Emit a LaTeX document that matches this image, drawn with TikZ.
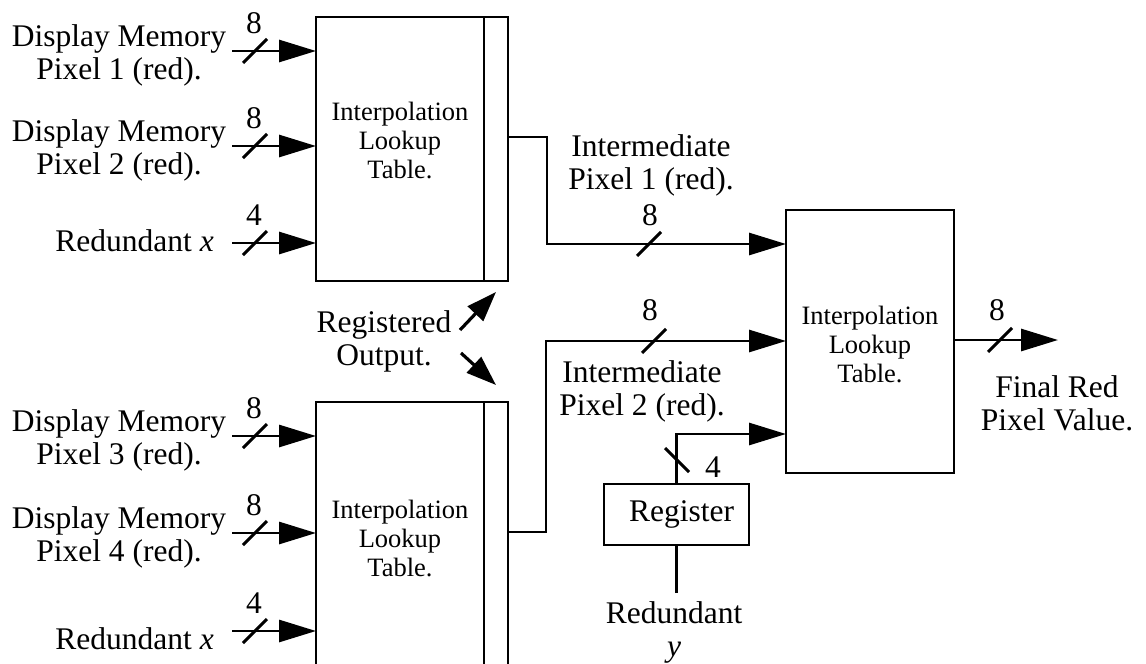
\documentclass[tikz,border=0pt]{standalone}
\usepackage{fontspec}
\setmainfont{Liberation Serif}
\usetikzlibrary{arrows.meta}
\begin{document}
\begin{tikzpicture}[x=1pt,y=-1pt,
  wire/.style={line width=2.9pt},
  sig/.style={wire,-{Triangle[length=37pt,width=22pt]}},
  regarrow/.style={line width=3.2pt,-{Triangle[length=30pt,width=21pt]}},
  box/.style={draw,line width=2.9pt,rectangle,inner sep=0pt,outer sep=0pt},
  lbl/.style={font=\fontsize{31.5pt}{33pt}\selectfont,align=center,inner sep=0pt},
  lutlbl/.style={font=\fontsize{26.5pt}{29pt}\selectfont,align=center,inner sep=0pt},
  num/.style={font=\fontsize{31.5pt}{33pt}\selectfont,inner sep=0pt},
  busmark/.style={line width=2.9pt}
]
\useasboundingbox (0,0) rectangle (1146,664);
\clip (0,0) rectangle (1146,664);

% ---- lookup tables with their output register strips ----
\node[box,minimum width=168pt,minimum height=264pt] (lut1) at (400,149) {};
\node[box,minimum width=24pt,minimum height=264pt] (reg1) at (496,149) {};
\node[lutlbl] (lut1t) at (400,140) {Interpolation\\Lookup\\Table.};

\node[box,minimum width=168pt,minimum height=298pt] (lut2) at (400,551) {};
\node[box,minimum width=24pt,minimum height=298pt] (reg2) at (496,551) {};
\node[lutlbl] (lut2t) at (400,538) {Interpolation\\Lookup\\Table.};

\node[box,minimum width=168pt,minimum height=263pt] (lut3) at (870,341.5) {};
\node[lutlbl] (lut3t) at (870,344) {Interpolation\\Lookup\\Table.};

\node[box,minimum width=145pt,minimum height=61pt,lbl] (rbox) at (676.5,514.5) {\hspace*{10pt}Register};

% ---- input labels ----
\node[lbl] (d1) at (119,55) {Display Memory\\Pixel 1 (red).};
\node[lbl] (d2) at (119,150) {Display Memory\\Pixel 2 (red).};
\node[lbl,anchor=base east] (rx1) at (214,251) {Redundant \textit{x}};
\node[lbl] (d3) at (119,440) {Display Memory\\Pixel 3 (red).};
\node[lbl] (d4) at (119,537) {Display Memory\\Pixel 4 (red).};
\node[lbl,anchor=base east] (rx2) at (214,649) {Redundant \textit{x}};

% ---- input buses ----
\coordinate (s1) at (232,51);
\coordinate (s2) at (232,146);
\coordinate (s3) at (232,243);
\coordinate (s4) at (232,436);
\coordinate (s5) at (232,533);
\coordinate (s6) at (232,631);
\draw[sig] (s1) -- (s1 -| lut1.west);
\draw[sig] (s2) -- (s2 -| lut1.west);
\draw[sig] (s3) -- (s3 -| lut1.west);
\draw[sig] (s4) -- (s4 -| lut2.west);
\draw[sig] (s5) -- (s5 -| lut2.west);
\draw[sig] (s6) -- (s6 -| lut2.west);
\foreach \yy/\w in {51/8,146/8,243/4,436/8,533/8,631/4}{
  \draw[busmark] (243,\yy+12) -- (267,\yy-12);
  \node[num] at (254,\yy-28) {\w};
}

% ---- intermediate pixels ----
\coordinate (o1) at (508,137);
\coordinate (k1) at (547,244);
\draw[sig] (o1) -| (k1) -- (k1 -| lut3.west);
\draw[busmark] (637,256) -- (661,232);
\node[num] (n1) at (650,215) {8};
\node[lbl] (ip1) at (651,165) {Intermediate\\Pixel 1 (red).};

\coordinate (o2) at (508,532);
\coordinate (k2) at (546,341);
\draw[sig] (o2) -| (k2) -- (k2 -| lut3.west);
\draw[busmark] (642,353) -- (666,329);
\node[num] (n2) at (650,310) {8};
\node[lbl] (ip2) at (642,391) {Intermediate\\Pixel 2 (red).};

% ---- register for y ----
\coordinate (k3) at (676.5,434);
\draw[sig] (rbox.north) -- (k3) -- (k3 -| lut3.west);
\draw[busmark] (665,448) -- (689,472);
\node[num] (n3) at (713,467) {4};
\coordinate (ry) at (676.5,593);
\draw[wire] (ry) -- (rbox.south);
\node[lbl] (ryl) at (674,632) {Redundant\\\textit{y}};

% ---- final output ----
\coordinate (fo) at (1058,340);
\draw[sig] (lut3.east |- fo) -- (fo);
\draw[busmark] (988,352) -- (1012,328);
\node[num] (n4) at (997,310) {8};
\node[lbl] (fin) at (1057,403) {Final Red\\Pixel Value.};

% ---- registered output callout ----
\node[lbl] (ro) at (384,341) {Registered\\Output.};
\coordinate (ra1) at (460,330);
\coordinate (ra2) at (461,353);
\draw[regarrow] (ra1) -- ([yshift=-11pt]reg1.south);
\draw[regarrow] (ra2) -- ([yshift=17pt]reg2.north);
\end{tikzpicture}
\end{document}
